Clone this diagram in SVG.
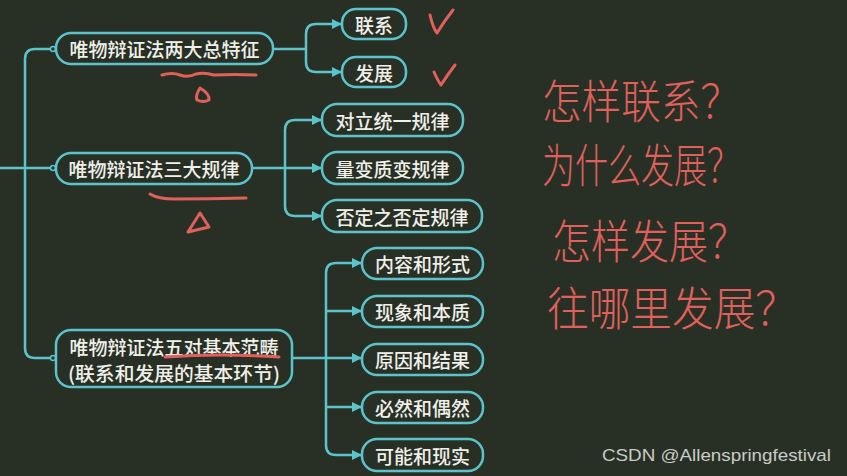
<svg xmlns="http://www.w3.org/2000/svg" width="847" height="476" viewBox="0 0 847 476">
<defs>
<marker id="arr" markerWidth="10" markerHeight="10" refX="9" refY="5" orient="auto" markerUnits="userSpaceOnUse">
<path d="M0,0 L10,5 L0,10 Z" fill="#5cc3cb"/>
</marker>
<style>
.bg{fill:#283025}
.box{fill:#283025;stroke:#5cc3cb;stroke-width:2.5}
.t{font-family:"Noto Sans CJK SC","Noto Sans",sans-serif;font-size:19px;font-weight:500;fill:#f0f0ea;text-anchor:middle;dominant-baseline:central}
.ln{fill:none;stroke:#5cc3cb;stroke-width:2.5}
.ar{fill:none;stroke:#5cc3cb;stroke-width:2.5;marker-end:url(#arr)}
.dot{fill:#283025;stroke:#5cc3cb;stroke-width:1.5}
.red{fill:none;stroke:#e2605c;stroke-width:3;stroke-linecap:round;stroke-linejoin:round}
.hw{font-family:"Noto Sans CJK SC",sans-serif;font-weight:300;font-size:46px;fill:#e2605c}
.wm{font-family:"Liberation Sans",Arial,sans-serif;font-size:17px;fill:#c9ccc6}
</style>
</defs>
<rect class="bg" x="0" y="0" width="847" height="476"/>

<g id="connectors">
<path class="ln" d="M53,49 H35 Q25,49 25,59 V348 Q25,358 35,358 H53"/>
<path class="ln" d="M0,168 H53"/>
<path class="ln" d="M273,49 H306"/>
<path class="ar" d="M306,49 V34 Q306,24 316,24 H341"/>
<path class="ar" d="M306,49 V62 Q306,72 316,72 H341"/>
<path class="ln" d="M252,168 H285"/>
<path class="ar" d="M285,168 V130 Q285,120 295,120 H321"/>
<path class="ar" d="M285,168 H321"/>
<path class="ar" d="M285,168 V206 Q285,216 295,216 H321"/>
<path class="ln" d="M292,358 H326"/>
<path class="ar" d="M326,358 V273 Q326,263 336,263 H361"/>
<path class="ar" d="M326,311 H361"/>
<path class="ar" d="M326,358 H361"/>
<path class="ar" d="M326,407 H361"/>
<path class="ar" d="M326,358 V445 Q326,455 336,455 H361"/>
<circle class="dot" cx="53" cy="49" r="2.5"/>
<circle class="dot" cx="53" cy="168" r="2.5"/>
<circle class="dot" cx="53" cy="358" r="2.5"/>
</g>

<g id="n1"><rect class="box" x="56" y="33" width="217" height="31" rx="15"/><text class="t" x="164.5" y="48.5">唯物辩证法两大总特征</text></g>
<g id="n1a"><rect class="box" x="342" y="9" width="64" height="30" rx="14"/><text class="t" x="374" y="24">联系</text></g>
<g id="n1b"><rect class="box" x="342" y="57" width="64" height="30" rx="14"/><text class="t" x="374" y="72">发展</text></g>

<g id="n2"><rect class="box" x="56" y="153" width="196" height="31" rx="15"/><text class="t" x="154" y="168">唯物辩证法三大规律</text></g>
<g id="n2a"><rect class="box" x="322" y="104" width="141" height="32" rx="15"/><text class="t" x="392.5" y="120">对立统一规律</text></g>
<g id="n2b"><rect class="box" x="322" y="152" width="141" height="32" rx="15"/><text class="t" x="392.5" y="168">量变质变规律</text></g>
<g id="n2c"><rect class="box" x="322" y="200" width="160" height="32" rx="15"/><text class="t" x="402" y="216">否定之否定规律</text></g>

<g id="n3"><rect class="box" x="56" y="330" width="236" height="57" rx="15"/><text class="t" x="174" y="346">唯物辩证法五对基本范畴</text><text class="t" x="174" y="372" textLength="212" lengthAdjust="spacingAndGlyphs">(联系和发展的基本环节)</text></g>
<g id="n3a"><rect class="box" x="362" y="248" width="121" height="31" rx="15"/><text class="t" x="422.5" y="263">内容和形式</text></g>
<g id="n3b"><rect class="box" x="362" y="296" width="121" height="31" rx="15"/><text class="t" x="422.5" y="311">现象和本质</text></g>
<g id="n3c"><rect class="box" x="362" y="344" width="121" height="31" rx="15"/><text class="t" x="422.5" y="359">原因和结果</text></g>
<g id="n3d"><rect class="box" x="362" y="392" width="121" height="31" rx="15"/><text class="t" x="422.5" y="407">必然和偶然</text></g>
<g id="n3e"><rect class="box" x="362" y="439" width="121" height="32" rx="15"/><text class="t" x="422.5" y="455">可能和现实</text></g>

<g id="marks">
<path class="red" d="M162,75 Q172,72 180,75 Q188,78 196,74 Q204,72 214,75 Q235,74 256,75"/>
<path class="red" d="M200,88 Q195,96 197,100 Q203,103 209,100 Q210,94 200,88 Z"/>
<path class="red" d="M150,194 Q158,199 175,199 Q210,199 246,198"/>
<path class="red" d="M200,213 L188,232 L209,227 Z"/>
<path class="red" d="M430,15 Q433,28 437,33 Q445,20 453,10"/>
<path class="red" d="M434,72 Q438,81 441,85 Q448,74 455,65"/>
<path class="red" d="M165,357 Q220,353 279,357"/>
</g>

<g id="handwriting">
<text class="hw" x="542" y="118" textLength="198" lengthAdjust="spacingAndGlyphs">怎样联系？</text>
<text class="hw" x="542" y="182" textLength="198" lengthAdjust="spacingAndGlyphs">为什么发展？</text>
<text class="hw" x="552" y="258" textLength="195" lengthAdjust="spacingAndGlyphs">怎样发展？</text>
<text class="hw" x="547" y="325" textLength="250" lengthAdjust="spacingAndGlyphs">往哪里发展？</text>
</g>

<text class="wm" x="602" y="461" textLength="229" lengthAdjust="spacingAndGlyphs">CSDN @Allenspringfestival</text>
</svg>
